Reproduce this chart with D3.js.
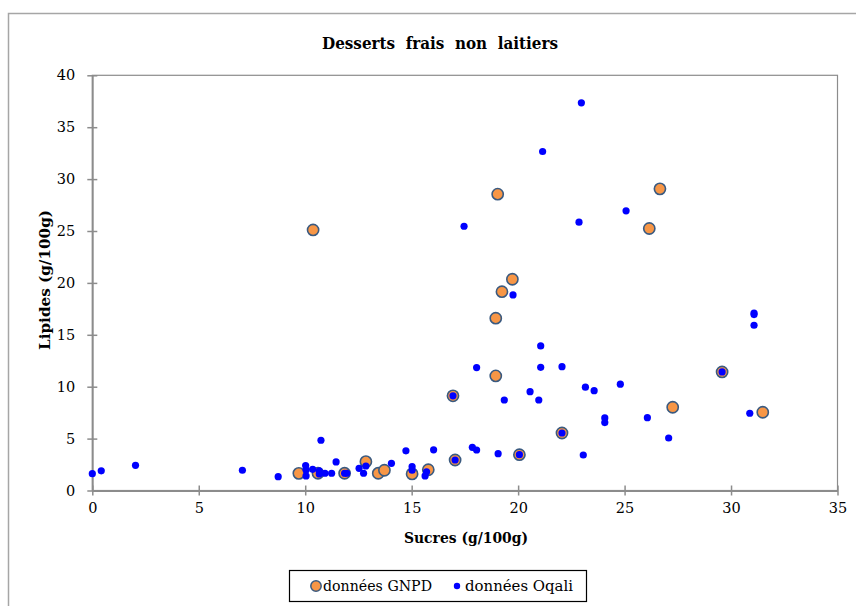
<!DOCTYPE html>
<html>
<head>
<meta charset="utf-8">
<script src="https://cdn.jsdelivr.net/npm/d3@7"></script>
<style>
  body { margin: 0; background: #fff; }
  svg text { font-family: "DejaVu Serif", "Liberation Serif", serif; }
</style>
</head>
<body>
<div id="chart"></div>
<script>
// Données GNPD (sucres, lipides en g/100g)
let gnpdSucres  = [9.7, 10.37, 10.6, 11.85, 12.85, 13.43, 13.72, 15.02, 15.78, 16.94, 17.04, 18.95, 18.95, 19.04, 19.24, 19.73, 20.06, 22.06, 26.16, 26.66, 27.26, 29.58, 31.49];
let gnpdLipides = [1.65, 25.1, 1.66, 1.66, 2.78, 1.66, 1.95, 1.6, 2.0, 9.12, 2.94, 16.6, 11.04, 28.55, 19.15, 20.35, 3.45, 5.54, 25.24, 29.06, 8.02, 11.42, 7.54];

// Données Oqali
let oqaliSucres  = [0.0, 0.42, 2.03, 7.05, 8.73, 10.02, 10.04, 10.04, 10.35, 10.66, 10.66, 10.74, 10.93, 11.24, 11.45, 11.85, 11.95, 12.53, 12.74, 12.85, 14.05, 14.73, 15.02, 15.02, 15.7, 15.63, 16.03, 16.94, 17.04, 17.46, 17.85, 18.05, 18.05, 19.06, 19.35, 19.76, 20.06, 20.56, 20.97, 21.06, 21.06, 21.15, 22.06, 22.06, 22.86, 22.97, 23.06, 23.16, 23.57, 24.07, 24.07, 24.8, 25.07, 26.07, 27.07, 29.58, 30.88, 31.08, 31.08, 31.08];
let oqaliLipides = [1.62, 1.9, 2.43, 1.95, 1.33, 2.4, 1.98, 1.4, 2.04, 1.9, 1.59, 4.84, 1.66, 1.66, 2.75, 1.66, 1.66, 2.14, 1.66, 2.36, 2.62, 3.82, 2.3, 1.95, 1.8, 1.4, 3.92, 9.12, 2.94, 25.46, 4.16, 3.9, 11.84, 3.55, 8.72, 18.84, 3.45, 9.52, 8.72, 13.93, 11.87, 32.66, 11.93, 5.54, 25.85, 37.35, 3.42, 9.95, 9.62, 6.99, 6.54, 10.24, 26.94, 7.02, 5.06, 11.42, 7.44, 16.95, 15.92, 17.1];

let xTicks = [0, 5, 10, 15, 20, 25, 30, 35];
let yTicks = [0, 5, 10, 15, 20, 25, 30, 35, 40];

let titre = "Desserts  frais  non  laitiers";
let xTitre = "Sucres (g/100g)";
let yTitre = "Lipides (g/100g)";
let series = ["données GNPD", "données Oqali"];

let width = 856, height = 606;
let margin = {top: 75.3, right: 18.5, bottom: 115.5, left: 92.3};
let w = width - margin.left - margin.right;
let h = height - margin.top - margin.bottom;

let svg = d3.select("#chart").append("svg")
    .attr("width", width)
    .attr("height", height);

// outer chart frame
svg.append("rect")
    .attr("x", 8.5).attr("y", 13.5)
    .attr("width", width + 20).attr("height", height + 20)
    .attr("fill", "none")
    .attr("stroke", "#a6a6a6")
    .attr("stroke-width", 1.5);

svg.append("text")
    .attr("x", 440).attr("y", 49)
    .attr("text-anchor", "middle")
    .attr("font-size", 16)
    .attr("font-weight", "bold")
    .attr("textLength", 236)
    .attr("lengthAdjust", "spacingAndGlyphs")
    .style("white-space", "pre")
    .text(titre);

let g = svg.append("g")
    .attr("transform", "translate(" + margin.left + "," + margin.top + ")");

let x = d3.scaleLinear().domain([0, 35]).range([0, w]);
let y = d3.scaleLinear().domain([0, 40]).range([h, 0]);

// plot area box
g.append("rect")
    .attr("x", 0).attr("y", 0)
    .attr("width", w).attr("height", h)
    .attr("fill", "none")
    .attr("stroke", "#8c8c8c")
    .attr("stroke-width", 1.2);

//axes with crossing tick marks
let xAxis = g.append("g")
    .attr("transform", "translate(0," + h + ")")
    .call(d3.axisBottom(x).tickValues(xTicks).tickSize(5).tickPadding(12).tickSizeOuter(0));
xAxis.selectAll(".tick line").attr("y1", -5).attr("y2", 5);

let yAxis = g.append("g")
    .call(d3.axisLeft(y).tickValues(yTicks).tickSize(5).tickPadding(12).tickSizeOuter(0));
yAxis.selectAll(".tick line").attr("x1", -5).attr("x2", 5);

[xAxis, yAxis].forEach(function(a) {
    a.select(".domain").attr("stroke", "#8c8c8c").attr("stroke-width", 1.8);
    a.selectAll(".tick line").attr("stroke", "#8c8c8c").attr("stroke-width", 1.5);
    a.selectAll(".tick text")
        .attr("fill", "#000")
        .attr("font-size", 14.5)
        .style("font-family", "'DejaVu Serif', serif");
});
xAxis.selectAll(".tick text").attr("dy", "0.71em").attr("y", 12);

svg.append("text")
    .attr("x", 466).attr("y", 543)
    .attr("text-anchor", "middle")
    .attr("font-size", 14.5)
    .attr("font-weight", "bold")
    .attr("textLength", 124)
    .attr("lengthAdjust", "spacingAndGlyphs")
    .text(xTitre);

svg.append("text")
    .attr("transform", "translate(50,280) rotate(-90)")
    .attr("text-anchor", "middle")
    .attr("font-size", 14.5)
    .attr("font-weight", "bold")
    .attr("textLength", 140)
    .attr("lengthAdjust", "spacingAndGlyphs")
    .text(yTitre);

// GNPD points
let gnpd = d3.range(gnpdSucres.length).map(function(i) {
    return {s: gnpdSucres[i], l: gnpdLipides[i]};
});
let oqali = d3.range(oqaliSucres.length).map(function(i) {
    return {s: oqaliSucres[i], l: oqaliLipides[i]};
});

g.selectAll(".gnpd")
    .data(gnpd)
    .enter()
    .append("circle")
    .attr("class", "gnpd")
    .attr("cx", function(d) { return x(d.s); })
    .attr("cy", function(d) { return y(d.l); })
    .attr("r", 5.6)
    .attr("fill", "#f79646")
    .attr("stroke", "#3a5a80")
    .attr("stroke-width", 1.6);

g.selectAll(".oqali")
    .data(oqali)
    .enter()
    .append("circle")
    .attr("class", "oqali")
    .attr("cx", function(d) { return x(d.s); })
    .attr("cy", function(d) { return y(d.l); })
    .attr("r", 3.6)
    .attr("fill", "#0000ff");

// legend
let leg = svg.append("g");
leg.append("rect")
    .attr("x", 289.5).attr("y", 570.5)
    .attr("width", 297).attr("height", 31)
    .attr("fill", "#fff")
    .attr("stroke", "#000")
    .attr("stroke-width", 1.2);
leg.append("circle")
    .attr("cx", 316).attr("cy", 586)
    .attr("r", 5.2)
    .attr("fill", "#f79646")
    .attr("stroke", "#3a5a80")
    .attr("stroke-width", 1.5);
leg.append("text")
    .attr("x", 323).attr("y", 591)
    .attr("font-size", 14)
    .attr("textLength", 109)
    .attr("lengthAdjust", "spacingAndGlyphs")
    .text(series[0]);
leg.append("circle")
    .attr("cx", 457).attr("cy", 586)
    .attr("r", 3.2)
    .attr("fill", "#0000ff");
leg.append("text")
    .attr("x", 465).attr("y", 591)
    .attr("font-size", 14)
    .attr("textLength", 108)
    .attr("lengthAdjust", "spacingAndGlyphs")
    .text(series[1]);
</script>
</body>
</html>
